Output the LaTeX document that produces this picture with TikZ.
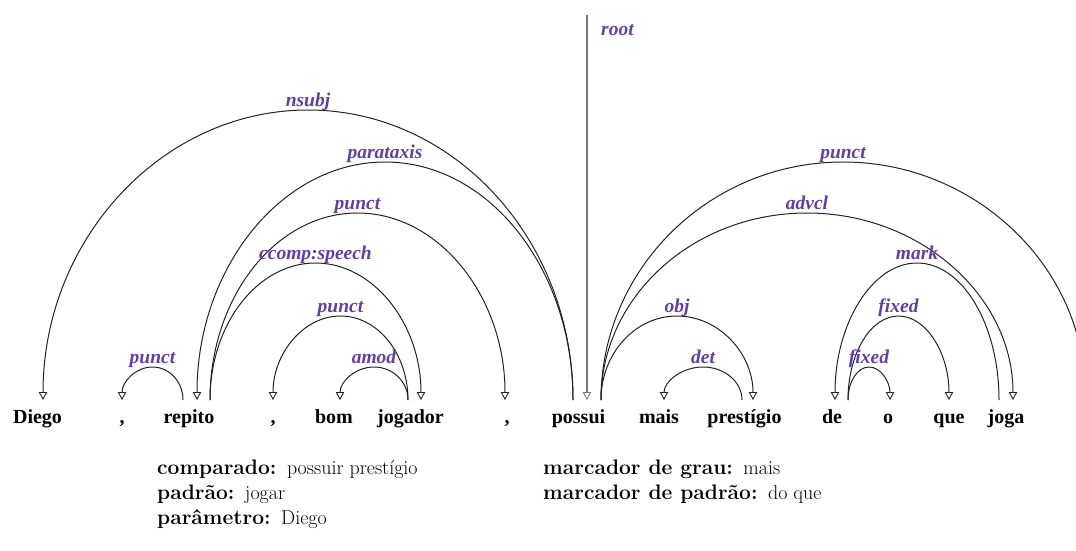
\documentclass[tikz,border=0pt]{standalone}
\usepackage{fontspec}
\newfontfamily\wordfont{Liberation Serif}
\usetikzlibrary{arrows.meta,calc}
\definecolor{labpurple}{RGB}{100,62,160}
\definecolor{arcgray}{RGB}{35,35,35}
\definecolor{rootgray}{RGB}{120,120,120}
\newcommand\mykey{\bfseries\fontsize{21}{25}\selectfont}
\newcommand\myval{\mdseries\fontsize{20}{24}\selectfont}
\tikzset{
  word/.style={font=\wordfont\bfseries\fontsize{20}{24}\selectfont, anchor=base, inner sep=0pt},
  lab/.style={font=\wordfont\bfseries\itshape\fontsize{19.5}{22}\selectfont, text=labpurple, anchor=base, inner sep=0pt},
  tip/.tip={Triangle[open,length=8pt,width=8.5pt,line width=0.9pt]},
  dep/.style={draw=arcgray, line width=1pt, -tip},
  rootline/.style={draw=rootgray, line width=1.6pt, -tip},
  info/.style={anchor=base west, inner sep=0pt},
}
\newcommand\arcleft[4]{%
  \draw[dep] let \p1=(#1), \p2=(#2) in (#1) arc[start angle=0, end angle=180, x radius={(\x1-\x2)/2}, y radius=#3pt];
  \node[lab] at ($(#1)!0.5!(#2)+(0pt,{#3pt+4pt})$) {#4};}
\newcommand\arcright[4]{%
  \draw[dep] let \p1=(#1), \p2=(#2) in (#1) arc[start angle=180, end angle=0, x radius={(\x2-\x1)/2}, y radius=#3pt];
  \node[lab] at ($(#1)!0.5!(#2)+(0pt,{#3pt+4pt})$) {#4};}
\begin{document}
\begin{tikzpicture}[x=1pt,y=-1pt]
\useasboundingbox (0,0) rectangle (1076,550);
\clip (0,0) rectangle (1076,550);
% words
\node[word] (diego) at (37.5,423) {Diego};
\node[word] (c1) at (122,423) {,};
\node[word] (repito) at (189,423) {repito};
\node[word] (c2) at (273,423) {,};
\node[word] (bom) at (334,423) {bom};
\node[word] (jogador) at (410.5,423) {jogador};
\node[word] (c3) at (507,423) {,};
\node[word] (possui) at (578.5,423) {possui};
\node[word] (mais) at (659,423) {mais};
\node[word] (prest) at (744.5,423) {prestígio};
\node[word] (de) at (832,423) {de};
\node[word] (o) at (888,423) {o};
\node[word] (que) at (949,423) {que};
\node[word] (joga) at (1006,423) {joga};
% attachment points
\coordinate (diegoI) at ($(diego.base)+(5.5,-23)$);
\coordinate (c1I) at ($(c1.base)+(0,-23)$);
\coordinate (repO1) at ($(repito.base)+(-6,-23)$);
\coordinate (repI) at ($(repito.base)+(8,-23)$);
\coordinate (repO2) at ($(repito.base)+(21,-23)$);
\coordinate (c2I) at ($(c2.base)+(0,-23)$);
\coordinate (bomI) at ($(bom.base)+(6,-23)$);
\coordinate (jogO) at ($(jogador.base)+(-2.5,-23)$);
\coordinate (jogI) at ($(jogador.base)+(10.5,-23)$);
\coordinate (c3I) at ($(c3.base)+(-2,-23)$);
\coordinate (posL) at ($(possui.base)+(-5.5,-23)$);
\coordinate (posRoot) at ($(possui.base)+(8.5,-23)$);
\coordinate (posR) at ($(possui.base)+(22.5,-23)$);
\coordinate (maisI) at ($(mais.base)+(5,-23)$);
\coordinate (preO) at ($(prest.base)+(-2.5,-23)$);
\coordinate (preI) at ($(prest.base)+(8.5,-23)$);
\coordinate (deI) at ($(de.base)+(3,-23)$);
\coordinate (deO) at ($(de.base)+(16,-23)$);
\coordinate (oI) at ($(o.base)+(2,-23)$);
\coordinate (queI) at ($(que.base)+(0,-23)$);
\coordinate (jogaO) at ($(joga.base)+(-7,-23)$);
\coordinate (jogaI) at ($(joga.base)+(7,-23)$);
\coordinate (periodI) at (1085,400);
\coordinate (rootTop) at ($(posRoot)+(0,-385)$);
% root
\draw[rootline] (rootTop) -- (posRoot);
\node[lab, anchor=base west] (rootlab) at (601,35) {root};
% arcs
\arcleft{posL}{diegoI}{290}{nsubj}
\arcleft{posL}{repI}{238}{parataxis}
\arcright{repO2}{c3I}{187}{punct}
\arcright{repO2}{jogI}{137}{ccomp:speech}
\arcleft{jogO}{c2I}{84}{punct}
\arcleft{jogO}{bomI}{33}{amod}
\arcleft{repO1}{c1I}{33}{punct}
\arcright{posR}{periodI}{238}{punct}
\arcright{posR}{jogaI}{187}{advcl}
\arcright{posR}{preI}{84}{obj}
\arcleft{preO}{maisI}{33}{det}
\arcleft{jogaO}{deI}{137}{mark}
\arcright{deO}{queI}{84}{fixed}
\arcright{deO}{oI}{33}{fixed}
% info lines
\node[info] (t1) at (157,474) {\mykey comparado: \myval possuir prestígio};
\node[info] (t2) at (157,499) {\mykey padrão: \myval jogar};
\node[info] (t3) at (157,524) {\mykey parâmetro: \myval Diego};
\node[info] (t4) at (543,474) {\mykey marcador de grau: \myval mais};
\node[info] (t5) at (543,499) {\mykey marcador de padrão: \myval do que};
\end{tikzpicture}
\end{document}
